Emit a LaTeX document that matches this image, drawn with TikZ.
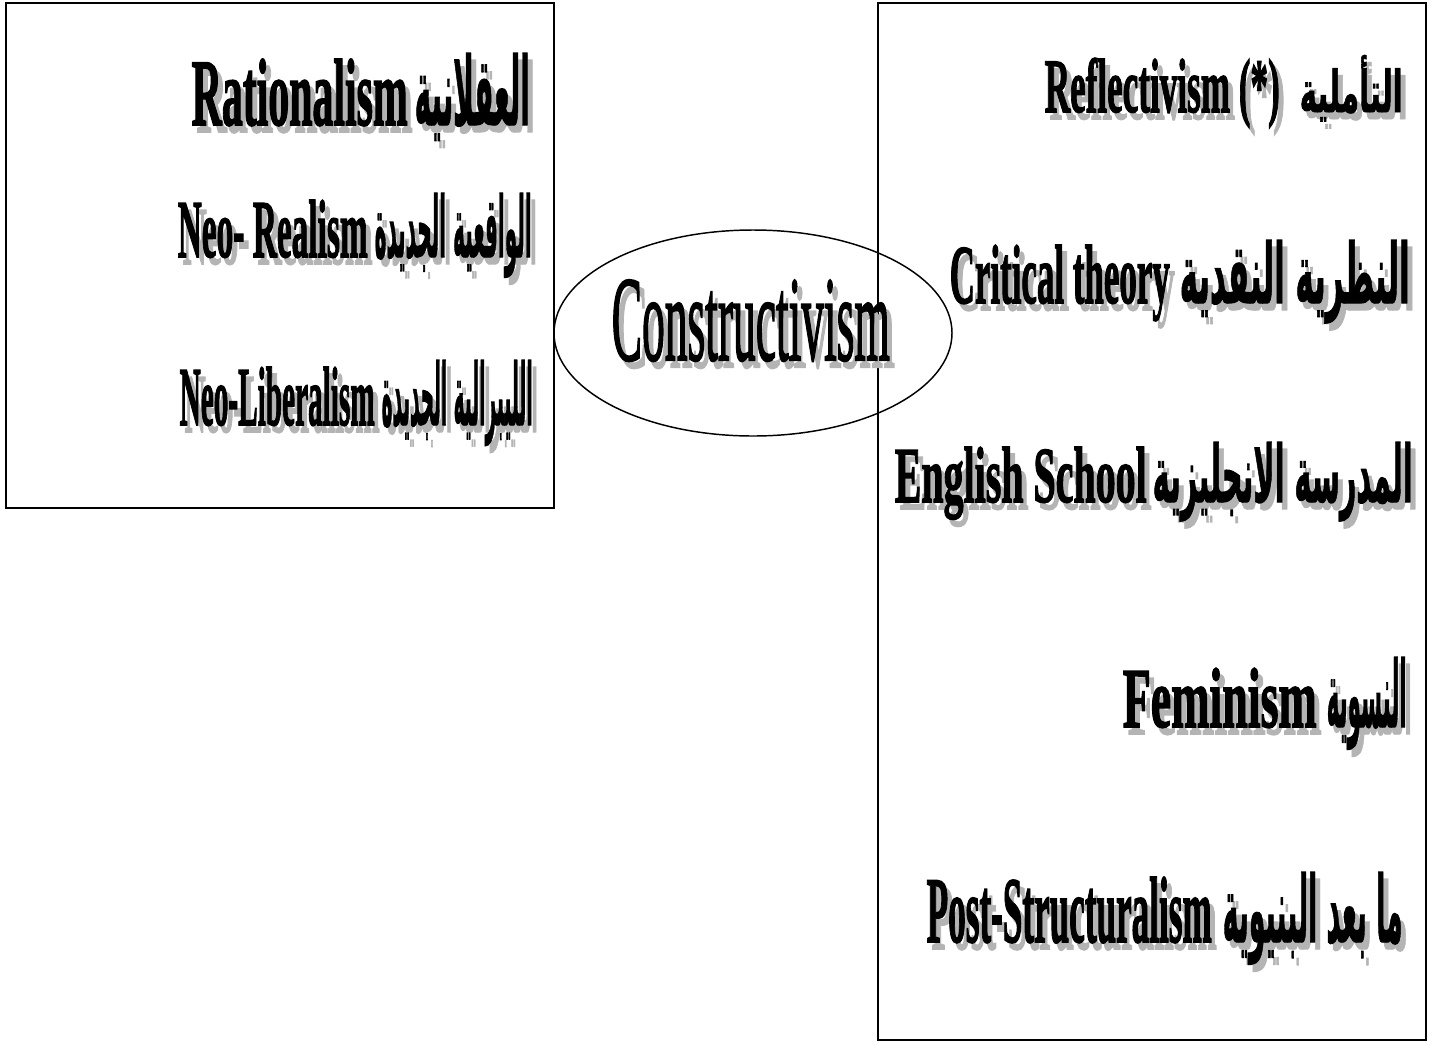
\documentclass[tikz,border=0pt]{standalone}
\usepackage{fontspec}
\usepackage{graphicx}
\setmainfont{Liberation Serif}[BoldFeatures={FakeBold=2}]
\newfontfamily\consfont{Liberation Serif}[FakeBold=2]
\newfontfamily\arfont[Script=Arabic,BoldFeatures={FakeBold=1.5}]{DejaVu Sans}
\TeXXeTstate=1
\definecolor{shgray}{RGB}{180,180,180}
\newdimen\pxu \pxu=0.75pt
% shadowed text squeezed to width x height (in px)
\newcommand{\shtxt}[3]{\rlap{\kern5\pxu\raisebox{-7\pxu}{\color{shgray}\resizebox{#1\pxu}{#2\pxu}{#3}}}\resizebox{#1\pxu}{#2\pxu}{#3}}
\newcommand{\artxt}[1]{{\arfont\bfseries\beginR #1\endR}}
\tikzset{txt/.style={anchor=base east,inner sep=0pt}}

\begin{document}
\begin{tikzpicture}[x=0.75pt,y=0.75pt,yscale=-1,xscale=1]
\useasboundingbox (0,0) rectangle (1433,1043);

%Shape: Rectangle
\draw [line width=1.1]  (6,3) -- (554,3) -- (554,508) -- (6,508) -- cycle ;
%Shape: Rectangle
\draw [line width=1.1]  (878,3) -- (1426,3) -- (1426,1040) -- (878,1040) -- cycle ;
%Shape: Ellipse
\draw [line width=1.1]  (753,333) ellipse (199 and 103) ;

% Text Node
\draw (890,360) node [txt] (cons) {\shtxt{278}{80}{\consfont Constructivism}};

% Text Node
\draw (530,125) node [txt] (rat_ar) {\shtxt{115}{72}{\artxt{العقلانية}}};
\draw (408,125) node [txt] (rat) {\shtxt{216}{66}{\bfseries Rationalism}};
% Text Node
\draw (532,257) node [txt] (neorea_ar) {\shtxt{157}{64}{\artxt{الواقعية الجديدة}}};
\draw (368,257) node [txt] (neorea) {\shtxt{190}{57}{\bfseries Neo- Realism}};
% Text Node
\draw (533,425) node [txt] (neolib_ar) {\shtxt{151}{65}{\artxt{الليبرالية الجديدة}}};
\draw (375,425) node [txt] (neolib) {\shtxt{195}{58}{\bfseries Neo-Liberalism}};

% Text Node
\draw (1403,112) node [txt] (refl_ar) {\shtxt{103}{57}{\artxt{التأملية}}};
\draw (1280,112) node [txt] (refl) {\shtxt{235}{54}{\bfseries Reflectivism (*)}};
% Text Node
\draw (1410,303) node [txt] (crit_ar) {\shtxt{230}{63}{\artxt{النظرية النقدية}}};
\draw (1170,303) node [txt] (crit) {\shtxt{220}{58}{\bfseries Critical theory}};
% Text Node
\draw (1413,502) node [txt] (eng_ar) {\shtxt{260}{60}{\artxt{المدرسة الانجليزية}}};
\draw (1147,502) node [txt] (eng) {\shtxt{252}{55}{\bfseries English School}};
% Text Node
\draw (1407,727) node [txt] (fem_ar) {\shtxt{80}{70}{\artxt{النسوية}}};
\draw (1317,727) node [txt] (fem) {\shtxt{194}{59}{\bfseries Feminism}};
% Text Node
\draw (1403,942) node [txt] (post_ar) {\shtxt{180}{70}{\artxt{ما بعد البنيوية}}};
\draw (1212,942) node [txt] (post) {\shtxt{285}{65}{\bfseries Post-Structuralism}};

\end{tikzpicture}
\end{document}
